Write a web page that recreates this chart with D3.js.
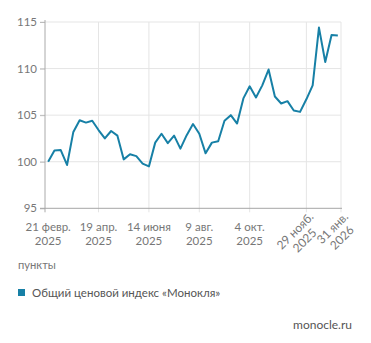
<!DOCTYPE html>
<html><head><meta charset="utf-8">
<script src="https://cdn.jsdelivr.net/npm/d3@7"></script>
<style>
html,body{margin:0;padding:0;background:#fff;}
svg{display:block;font-family:Lato, "Open Sans", sans-serif;}
</style></head>
<body>
<svg id="c" width="371" height="343"></svg>
<script>
// ---- data ----
const categories = [
 "2025-02-21","2025-02-28","2025-03-07","2025-03-14","2025-03-21","2025-03-28","2025-04-04","2025-04-11",
 "2025-04-19","2025-04-26","2025-05-03","2025-05-10","2025-05-17","2025-05-24","2025-05-31","2025-06-07",
 "2025-06-14","2025-06-21","2025-06-28","2025-07-05","2025-07-12","2025-07-19","2025-07-26","2025-08-02",
 "2025-08-09","2025-08-16","2025-08-23","2025-08-30","2025-09-06","2025-09-13","2025-09-20","2025-09-27",
 "2025-10-04","2025-10-11","2025-10-18","2025-10-25","2025-11-01","2025-11-08","2025-11-15","2025-11-19",
 "2025-11-22","2025-11-29","2025-12-06","2025-12-13","2025-12-20","2026-01-17","2026-01-31"
];
const values = [
 100.0,101.2,101.25,99.65,103.2,104.45,104.2,104.4,
 103.4,102.5,103.3,102.8,100.25,100.8,100.6,99.8,
 99.5,102.05,103.0,102.0,102.8,101.4,102.85,104.05,
 103.0,100.9,102.05,102.2,104.4,105.0,104.1,106.8,
 108.1,106.9,108.2,109.9,107.0,106.25,106.5,105.5,
 105.35,106.7,108.2,114.4,110.7,113.6,113.55
];
const tickCategories = ["2025-02-21","2025-04-19","2025-06-14","2025-08-09","2025-10-04","2025-11-29","2026-01-31"];
const tickLabels = [["21 февр.","2025"],["19 апр.","2025"],["14 июня","2025"],["9 авг.","2025"],["4 окт.","2025"],["29 нояб.","2025"],["31 янв.","2026"]];
const rotatedTicks = [false,false,false,false,false,true,true];
const yTicks = [95,100,105,110,115];
const seriesName = "Общий ценовой индекс «Монокля»";
const unitLabel = "пункты";
const sourceLabel = "monocle.ru";

// ---- layout ----
const L = 45, R = 341, T = 22, B = 208.3;
const lineColor = "#1780a6";
const svg = d3.select("#c");
svg.append("rect").attr("width",371).attr("height",343).attr("fill","#fff");

const x = d3.scalePoint().domain(categories).range([L,R]).padding(0.5);
const y = d3.scaleLinear().domain([95,115]).range([B,T]);

// horizontal grid
svg.append("g").selectAll("line").data(yTicks.filter(d=>d>95)).join("line")
  .attr("x1",40).attr("x2",R).attr("y1",d=>y(d)).attr("y2",d=>y(d))
  .attr("stroke","#e5e5e5").attr("stroke-width",1);
// vertical grid
svg.append("g").selectAll("line").data(tickCategories.slice(1,-1)).join("line")
  .attr("x1",d=>x(d)).attr("x2",d=>x(d)).attr("y1",T).attr("y2",B+4)
  .attr("stroke","#e5e5e5").attr("stroke-width",1);
svg.append("line").attr("x1",R).attr("x2",R).attr("y1",T).attr("y2",B+4)
  .attr("stroke","#e5e5e5");

// y axis
const yAxis = d3.axisLeft(y).tickValues(yTicks).tickSize(5).tickPadding(3);
const gy = svg.append("g").attr("transform",`translate(${L},0)`).call(yAxis);
gy.select(".domain").remove();
gy.selectAll(".tick line").attr("stroke","#bbb");
gy.selectAll("text").attr("fill","#777").attr("font-size","11.5px").attr("font-family","Lato, sans-serif");
svg.append("line").attr("x1",L).attr("x2",L).attr("y1",T-2).attr("y2",B+4).attr("stroke","#aaa");
// x axis line
svg.append("line").attr("x1",L-5).attr("x2",R+1).attr("y1",B).attr("y2",B).attr("stroke","#a5a5a5");

// x labels
const fs = "11.5px";
const gx = svg.append("g");
const lastIdx = tickCategories.length - 1;
tickCategories.forEach((c,i)=>{
  const tx = x(c);
  if(!rotatedTicks[i]){
    const t = gx.append("text").attr("text-anchor","middle").attr("fill","#777").attr("font-size",fs);
    t.append("tspan").attr("x",tx).attr("y",230.5).text(tickLabels[i][0]);
    t.append("tspan").attr("x",tx).attr("y",244.5).text(tickLabels[i][1]);
  } else {
    const gridX = i === lastIdx ? R : tx;
    const g = gx.append("g").attr("transform",`translate(${gridX+8},${217.5}) rotate(-45)`);
    const t = g.append("text").attr("text-anchor","middle").attr("fill","#777").attr("font-size","12px");
    const s1 = t.append("tspan").attr("y",0).text(tickLabels[i][0]);
    const w = s1.node().getComputedTextLength();
    s1.attr("x",-w/2);
    t.append("tspan").attr("x",-w/2).attr("y",13.5).text(tickLabels[i][1]);
  }
});

// line
const line = d3.line().x((d,i)=>x(categories[i])).y(d=>y(d));
svg.append("path").datum(values).attr("d",line).attr("fill","none")
  .attr("stroke",lineColor).attr("stroke-width",2).attr("stroke-linejoin","round");

// unit label
svg.append("text").attr("x",18).attr("y",268.5).attr("fill","#777").attr("font-size","11.2px").text(unitLabel);
// legend
svg.append("rect").attr("x",18).attr("y",289).attr("width",7).attr("height",7).attr("fill",lineColor);
svg.append("text").attr("x",32).attr("y",297).attr("fill","#555").attr("font-size","11.5px").text(seriesName);
// source
svg.append("text").attr("x",352).attr("y",329).attr("text-anchor","end").attr("fill","#555").attr("font-size","12px").text(sourceLabel);
</script>
</body></html>
